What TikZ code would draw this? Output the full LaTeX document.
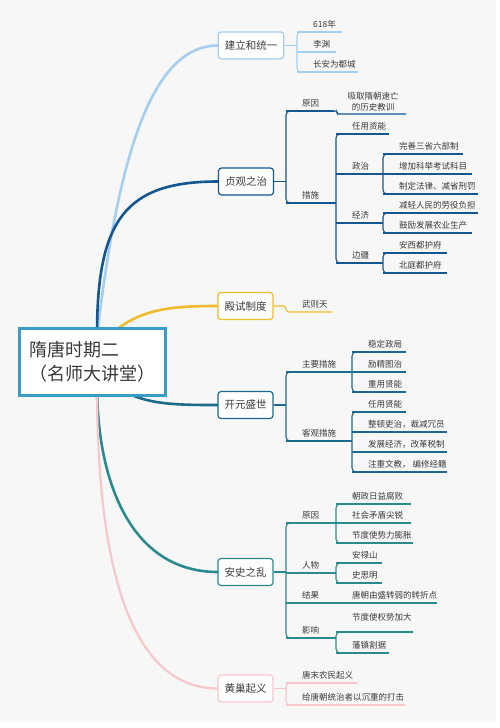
\documentclass[tikz,border=0pt]{standalone}
\usepackage{fontspec}
\setmainfont{Noto Sans CJK SC}
\definecolor{bg}{HTML}{F7F7F7}
\definecolor{cb}{HTML}{3A9DC8}
\definecolor{clb}{HTML}{A6CFEF}
\definecolor{cdb}{HTML}{14568F}
\definecolor{cyl}{HTML}{EFBC2C}
\definecolor{ckb}{HTML}{1D6B8A}
\definecolor{cas}{HTML}{2A8B8E}
\definecolor{cpk}{HTML}{F6C8CB}
\definecolor{txt}{HTML}{3A3A3A}
\tikzset{
  mainline/.style={line width=2.6pt, line cap=round},
  thinline/.style={line width=1.1pt},
  bbox/.style={rounded corners=3pt, line width=1.2pt, fill=white, minimum height=27pt,
    inner xsep=6.5pt, inner ysep=0pt, font=\fontsize{10.5}{12}\selectfont, text=txt},
  lt/.style={inner sep=0pt, font=\fontsize{8.5}{10}\selectfont, text=txt},
}
\newcommand\lf[6]{% color, name, bx, y, endx, text
  \draw[#1, thinline] (#3,#4) -- (#5,#4);
  \node[lt, anchor=base west] (#2) at (#3+16,#4-4.6) {#6};}
\newcommand\brk[4]{% color, bx, ytop, ybot
  \draw[#1, thinline, rounded corners=4pt] (#2+10,#3) -- (#2,#3) -- (#2,#4) -- (#2+10,#4);}
\begin{document}
\begin{tikzpicture}[x=1pt, y=-1pt]
\useasboundingbox (0,0) rectangle (500,728);
\fill[white] (0,0) rectangle (500,728);
\fill[bg] (0,0) rectangle (496,722);

% main curves
\draw[mainline, clb] (97,335) .. controls (118,160) and (150,45.5) .. (218,45.5);
\draw[mainline, cdb] (97,335) .. controls (97,220) and (125,181.5) .. (218,181.5);
\draw[mainline, cyl] (105,340) .. controls (135,310) and (165,306) .. (217,306);
\draw[mainline, ckb] (115,385) .. controls (140,405) and (175,405) .. (218,405);
\draw[mainline, cas] (97,385) .. controls (97,480) and (130,572) .. (218,572);
\draw[mainline, cpk, line width=2.2pt] (97,385) .. controls (97,580) and (135,688.5) .. (218,688.5);

% central node
\node[draw=cb, line width=3pt, fill=white, minimum width=146pt, minimum height=67pt,
  anchor=north west, align=left, text=txt, font=\fontsize{18}{24}\selectfont, inner sep=0pt]
  (c) at (18,327) {隋唐时期二\\（名师大讲堂）};

% ---- branch 1
\node[bbox, draw=clb] (n1) at (251,45.5) {建立和统一};
\coordinate (b1) at (297,45.5);
\draw[clb, thinline] (n1.east) -- (b1);
\brk{clb}{297}{32}{72}
\lf{clb}{a1}{297}{32}{342}{618年}
\lf{clb}{a2}{297}{52}{336}{李渊}
\lf{clb}{a3}{297}{72}{358}{长安为都城}

% ---- branch 2
\node[bbox, draw=cdb] (n2) at (246,181.5) {贞观之治};
\coordinate (b2) at (286,181.5);
\draw[cdb, thinline] (n2.east) -- (b2);
\brk{cdb}{286}{111}{203}
\lf{cdb}{z1}{286}{111}{334}{原因}
\draw[cdb, thinline, rounded corners=2pt] (333,111) -- (337,111) -- (337,114) -- (406,114);
\node[lt, align=center, font=\fontsize{8.5}{11}\selectfont] (z1a) at (373,101.5) {吸取隋朝速亡\\的历史教训};
\lf{cdb}{z2}{286}{203}{336}{措施}
\brk{cdb}{336}{134}{263}
\lf{cdb}{z21}{336}{134}{389}{任用资能}
\lf{cdb}{z22}{336}{174}{383}{政治}
\brk{cdb}{383}{154}{194}
\lf{cdb}{z221}{383}{154}{463}{完善三省六部制}
\lf{cdb}{z222}{383}{174}{472}{增加科举考试科目}
\lf{cdb}{z223}{383}{194}{478}{制定法律、减省刑罚}
\lf{cdb}{z23}{336}{223}{383}{经济}
\brk{cdb}{383}{213}{233}
\lf{cdb}{z231}{383}{213}{478}{减轻人民的劳役负担}
\lf{cdb}{z232}{383}{233}{472}{鼓励发展农业生产}
\lf{cdb}{z24}{336}{263}{383}{边疆}
\brk{cdb}{383}{253}{273}
\lf{cdb}{z241}{383}{253}{447}{安西都护府}
\lf{cdb}{z242}{383}{273}{447}{北庭都护府}

% ---- branch 3
\node[bbox, draw=cyl] (n3) at (245.5,306) {殿试制度};
\draw[cyl, thinline, rounded corners=3pt] (n3.east) -- (286,306) -- (286,312) -- (332,312);
\node[lt, anchor=base west] (d1) at (302,312-4.6) {武则天};

% ---- branch 4
\node[bbox, draw=ckb] (n4) at (245.5,405) {开元盛世};
\coordinate (b4) at (286,405);
\draw[ckb, thinline] (n4.east) -- (b4);
\brk{ckb}{286}{372}{441}
\lf{ckb}{k1}{286}{372}{352}{主要措施}
\brk{ckb}{352}{352}{392}
\lf{ckb}{k11}{352}{352}{406}{稳定政局}
\lf{ckb}{k12}{352}{372}{406}{励精图治}
\lf{ckb}{k13}{352}{392}{406}{重用贤能}
\lf{ckb}{k2}{286}{441}{352}{客观措施}
\brk{ckb}{352}{412}{472}
\lf{ckb}{k21}{352}{412}{406}{任用贤能}
\lf{ckb}{k22}{352}{432}{447}{整顿吏治，裁减冗员}
\lf{ckb}{k23}{352}{452}{447}{发展经济，改革税制}
\lf{ckb}{k24}{352}{472}{447}{注重文教， 编修经籍}

% ---- branch 5
\node[bbox, draw=cas] (n5) at (245.5,572) {安史之乱};
\coordinate (b5) at (286,572);
\draw[cas, thinline] (n5.east) -- (b5);
\brk{cas}{286}{523}{638}
\lf{cas}{s1}{286}{523}{336}{原因}
\brk{cas}{336}{504}{543}
\lf{cas}{s11}{336}{504}{411}{朝政日益腐败}
\lf{cas}{s12}{336}{523}{411}{社会矛盾尖锐}
\lf{cas}{s13}{336}{543}{413}{节度使势力膨胀}
\lf{cas}{s2}{286}{573}{336}{人物}
\brk{cas}{336}{563}{583}
\lf{cas}{s21}{336}{563}{382}{安禄山}
\lf{cas}{s22}{336}{583}{382}{史思明}
\lf{cas}{s3}{286}{603}{437}{结果}
\node[lt, anchor=base west] (s31) at (352,603-4.6) {唐朝由盛转弱的转折点};
\lf{cas}{s4}{286}{638}{336}{影响}
\brk{cas}{336}{632}{653}
\draw[cas, thinline] (336,632) -- (413,632);
\node[lt, anchor=base west] (s41) at (352,620.5) {节度使权势加大};
\lf{cas}{s42}{336}{653}{389}{藩镇割据}

% ---- branch 6
\node[bbox, draw=cpk] (n6) at (245.5,688.5) {黄巢起义};
\coordinate (b6) at (286,688.5);
\draw[cpk, thinline] (n6.east) -- (b6);
\brk{cpk}{286}{683}{705}
\lf{cpk}{h1}{286}{683}{357}{唐末农民起义}
\lf{cpk}{h2}{286}{705}{405}{给唐朝统治者以沉重的打击}
\end{tikzpicture}
\end{document}
